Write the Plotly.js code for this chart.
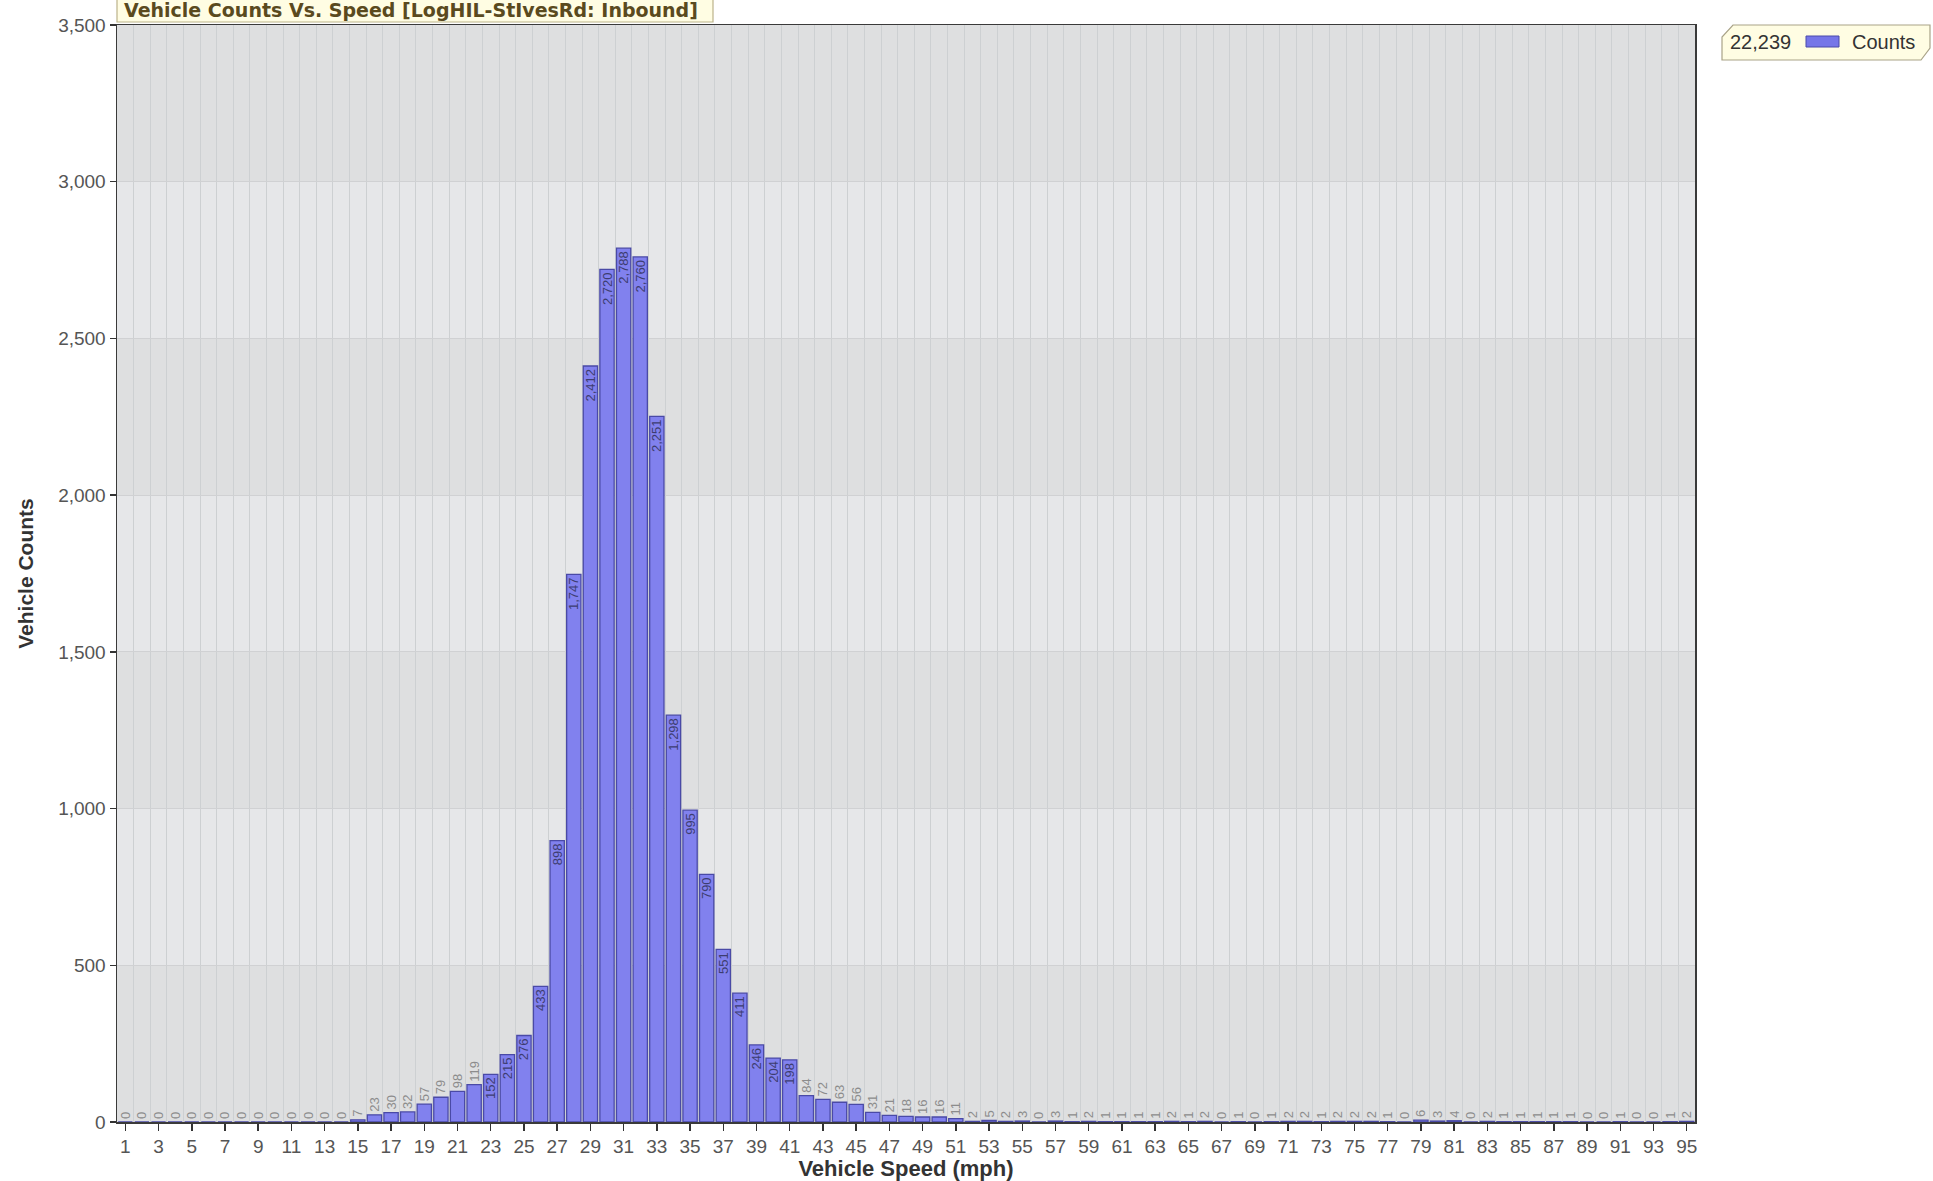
<!DOCTYPE html>
<html>
<head>
<meta charset="utf-8">
<script src="https://cdn.plot.ly/plotly-3.0.1.min.js"></script>
<style>
  html, body { margin: 0; padding: 0; background: #ffffff; }
  #chart { width: 1933px; height: 1181px; }
</style>
</head>
<body>
<div id="chart"></div>
<script>
// ---- data ----
const speeds = [1,2,3,4,5,6,7,8,9,10,11,12,13,14,15,16,17,18,19,20,
  21,22,23,24,25,26,27,28,29,30,31,32,33,34,35,36,37,38,39,40,
  41,42,43,44,45,46,47,48,49,50,51,52,53,54,55,56,57,58,59,60,
  61,62,63,64,65,66,67,68,69,70,71,72,73,74,75,76,77,78,79,80,
  81,82,83,84,85,86,87,88,89,90,91,92,93,94,95];
const counts = [0,0,0,0,0,0,0,0,0,0,0,0,0,0,7,23,30,32,57,79,
  98,119,152,215,276,433,898,1747,2412,2720,2788,2760,2251,1298,995,790,551,411,246,204,
  198,84,72,63,56,31,21,18,16,16,11,2,5,2,3,0,3,1,2,1,
  1,1,1,2,1,2,0,1,0,1,2,2,1,2,2,2,1,0,6,3,
  4,0,2,1,1,1,1,1,0,0,1,0,0,1,2];
const seriesName = "Counts";
const totalLabel = "22,239";
const chartTitle = "Vehicle Counts Vs. Speed [LogHIL-StIvesRd: Inbound]";
const xTitle = "Vehicle Speed (mph)";
const yTitle = "Vehicle Counts";

// ---- geometry helpers (pixel -> paper) ----
const L = 117, R = 1695, T = 25, B = 1122;
const W = 1933, H = 1181;
const px = X => (X - L) / (R - L);
const py = Y => (B - Y) / (B - T);

const font = "Liberation Sans, Arial, sans-serif";

const trace = {
  type: "bar",
  x: speeds,
  y: counts,
  name: seriesName,
  marker: { color: "#8181ee", line: { color: "#4a4aa6", width: 1.3 } },
  texttemplate: "%{y:,}",
  textposition: counts.map(v => v >= 150 ? "inside" : "outside"),
  insidetextanchor: "end",
  textangle: -90,
  constraintext: "none",
  cliponaxis: false,
  insidetextfont: { family: font, size: 13, color: "#3d3d70" },
  outsidetextfont: { family: font, size: 13, color: "#8c8c8c" },
  hoverinfo: "x+y",
  showlegend: false
};

// alternating horizontal background bands (top band darker)
const bandShapes = [];
for (let b = 0; b < 3500; b += 500) {
  const dark = ((b / 500) % 2) === 0;
  bandShapes.push({
    type: "rect", xref: "paper", yref: "y", layer: "below",
    x0: 0, x1: 1, y0: b, y1: b + 500,
    fillcolor: dark ? "#dedfe0" : "#e6e7e9", line: { width: 0 }
  });
}

const legendPath = [
  [1733, 25], [1930, 25], [1930, 48], [1921, 60], [1722, 60], [1722, 37]
].map((p, i) => (i === 0 ? "M" : "L") + px(p[0]).toFixed(5) + "," + py(p[1]).toFixed(5)).join(" ") + " Z";

const layout = {
  width: W, height: H,
  paper_bgcolor: "#ffffff",
  plot_bgcolor: "#e4e5e7",
  margin: { l: L, r: W - R, t: T, b: H - B, pad: 0 },
  bargap: 0.14,
  font: { family: font, color: "#555555" },
  title: {
    text: chartTitle,
    font: { family: "DejaVu Sans, Verdana, sans-serif", size: 19, color: "#5a4a1e", weight: "bold" },
    xref: "paper", x: px(124), xanchor: "left",
    yref: "container", y: 1 - 10 / H, yanchor: "middle"
  },
  xaxis: {
    range: [0.5, 95.5],
    tick0: 1, dtick: 2,
    ticks: "outside", ticklen: 7, tickwidth: 1.5, tickcolor: "#333333",
    tickfont: { family: font, size: 19, color: "#555555" },
    showgrid: false,
    minor: { tick0: 0.5, dtick: 1, showgrid: true, gridcolor: "#cdd0d2", gridwidth: 1, ticks: "" },
    showline: true, linecolor: "#3a3a3a", linewidth: 1.5, mirror: true,
    zeroline: false,
    title: { text: xTitle, font: { family: font, size: 22, color: "#333333", weight: "bold" }, standoff: 0 },
    automargin: false
  },
  yaxis: {
    range: [0, 3500],
    dtick: 500, tickformat: ",",
    ticks: "outside", ticklen: 6, tickwidth: 1.5, tickcolor: "#333333",
    tickfont: { family: font, size: 19, color: "#555555" },
    showgrid: true, gridcolor: "#d0d1d3", gridwidth: 1,
    showline: true, linecolor: "#3a3a3a", linewidth: 1.5, mirror: true,
    zeroline: false,
    title: { text: yTitle, font: { family: font, size: 21, color: "#333333", weight: "bold" }, standoff: 19 },
    automargin: false
  },
  shapes: bandShapes.concat([
    // title box
    { type: "rect", xref: "paper", yref: "paper", layer: "above",
      x0: px(117), x1: px(713), y0: py(22), y1: py(-2),
      fillcolor: "#fffde3", line: { color: "#bcb38a", width: 1.2 } },
    // legend box
    { type: "path", xref: "paper", yref: "paper", layer: "above",
      path: legendPath, fillcolor: "#fffde3", line: { color: "#a9a388", width: 1.2 } },
    // legend swatch
    { type: "rect", xref: "paper", yref: "paper", layer: "above",
      x0: px(1806), x1: px(1839), y0: py(47), y1: py(36),
      fillcolor: "#7676e8", line: { color: "#4a4aaa", width: 1 } }
  ]),
  annotations: [
    { xref: "paper", yref: "paper", x: px(1728), y: py(42), xanchor: "left", yanchor: "middle",
      text: totalLabel, showarrow: false, font: { family: font, size: 20, color: "#333333" } },
    { xref: "paper", yref: "paper", x: px(1850), y: py(42), xanchor: "left", yanchor: "middle",
      text: seriesName, showarrow: false, font: { family: font, size: 20, color: "#333333" } }
  ],
  showlegend: false
};

Plotly.newPlot("chart", [trace], layout, { displayModeBar: false, staticPlot: true });
</script>
</body>
</html>
